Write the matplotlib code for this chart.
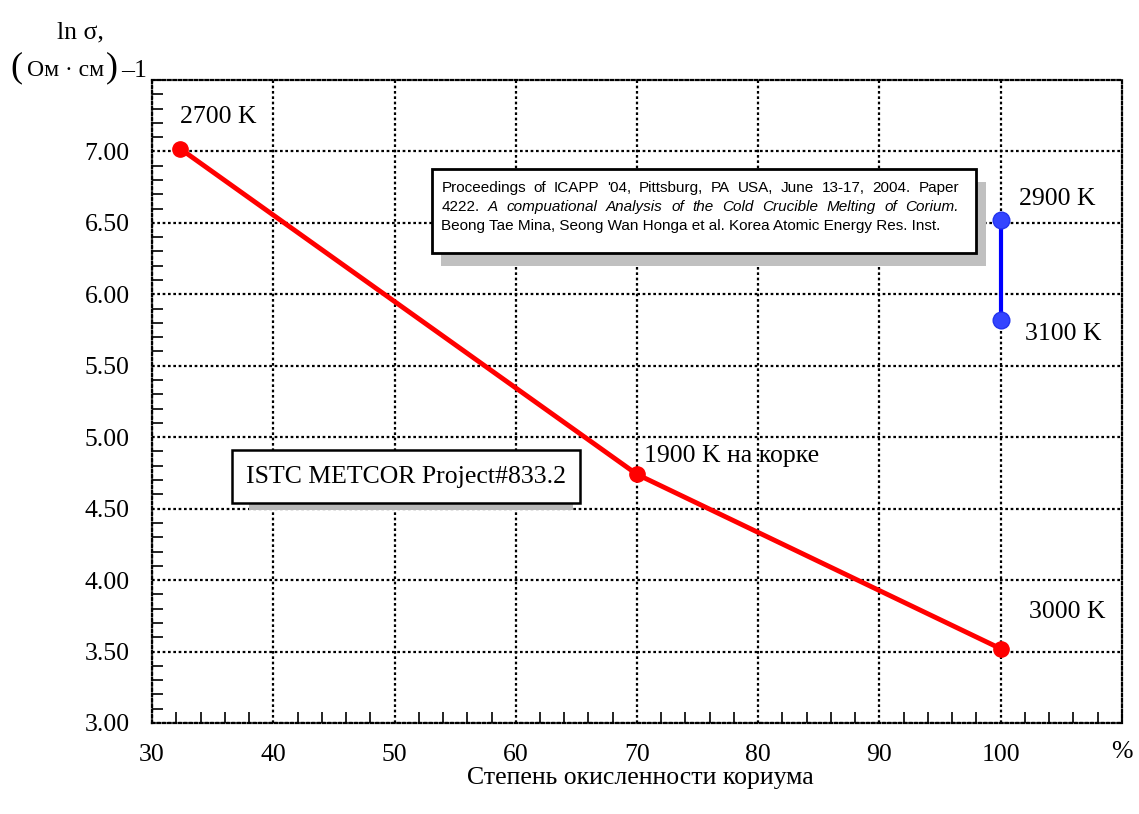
import matplotlib
matplotlib.use("Agg")
import matplotlib.pyplot as plt
from matplotlib.patches import Rectangle
from matplotlib.ticker import MultipleLocator, FormatStrFormatter

# Data: oxidation degree (%) vs ln(sigma)
metcor_x = [32.3, 70.0, 100.0]
metcor_y = [7.02, 4.74, 3.52]
metcor_labels = ["2700 K", "1900 K на корке", "3000 K"]

icapp_x = [100.0, 100.0]
icapp_y = [6.52, 5.82]
icapp_labels = ["2900 K", "3100 K"]

x_ticks = [30, 40, 50, 60, 70, 80, 90, 100]
y_ticks = [3.0, 3.5, 4.0, 4.5, 5.0, 5.5, 6.0, 6.5, 7.0]

serif = "Liberation Serif"
sans = "Liberation Sans"
FS = 18.5

fig = plt.figure(figsize=(11.39, 8.14), dpi=100)
ax = fig.add_axes([0.1335, 0.1118, 0.8515, 0.79])

ax.set_xlim(30, 110)
ax.set_ylim(3.0, 7.5)
ax.set_xticks(x_ticks)
ax.set_yticks(y_ticks)
ax.xaxis.set_minor_locator(MultipleLocator(2))
ax.yaxis.set_minor_locator(MultipleLocator(0.1))
ax.yaxis.set_major_formatter(FormatStrFormatter("%.2f"))

ax.grid(True, which="major", color="black", linestyle=(0, (1.2, 1.2)), linewidth=1.6)
for s in ax.spines.values():
    s.set_linestyle((0, (1.2, 1.2)))
    s.set_linewidth(1.6)
ax.tick_params(which="both", direction="in", length=0, labelsize=FS)
ax.tick_params(axis="y", pad=16)
ax.tick_params(axis="x", pad=15)
ax.tick_params(which="minor", length=8, width=1.2)
for lab in ax.get_xticklabels() + ax.get_yticklabels():
    lab.set_fontfamily(serif)

# Main series
ax.plot(metcor_x, metcor_y, color="#ff0000", linewidth=3.5, marker="o",
        markersize=11, zorder=5, clip_on=False)
ax.plot(icapp_x, icapp_y, color="#0000ff", linewidth=3, marker="o",
        markersize=12, markerfacecolor="#3344ff", markeredgecolor="#2233ee",
        zorder=5, clip_on=False)

# Point labels
label_pos = [(32.3, 7.24), (70.6, 4.87), (102.3, 3.775)]
for (x, y), t in zip(label_pos, metcor_labels):
    ax.text(x, y, t, fontsize=FS, family=serif, va="center", ha="left", zorder=6)
label_pos2 = [(101.5, 6.665), (102.0, 5.72)]
for (x, y), t in zip(label_pos2, icapp_labels):
    ax.text(x, y, t, fontsize=FS, family=serif, va="center", ha="left", zorder=6)

# Reference box with shadow
bx0, bx1, by0, by1 = 53.06, 98.0, 6.29, 6.874
ax.add_patch(Rectangle((bx0 + 0.8, by0 - 0.09), bx1 - bx0, by1 - by0,
                       facecolor="#c0c0c0", edgecolor="none", zorder=7))
ax.add_patch(Rectangle((bx0, by0), bx1 - bx0, by1 - by0,
                       facecolor="white", edgecolor="black", linewidth=2, zorder=8))

TS = 11
renderer = fig.canvas.get_renderer()


def justified_line(words, x_start, x_end, y):
    """Place (word, style) pieces on one line, spread between x_start and x_end."""
    arts = [ax.text(x_start, y, w, fontsize=TS, family=sans, style=st,
                    va="center", ha="left", zorder=9) for w, st in words]
    widths = [a.get_window_extent(renderer=renderer).width for a in arts]
    px0 = ax.transData.transform((x_start, y))[0]
    px1 = ax.transData.transform((x_end, y))[0]
    gap = (px1 - px0 - sum(widths)) / (len(arts) - 1)
    cur = px0
    inv = ax.transData.inverted()
    for a, w in zip(arts, widths):
        a.set_x(inv.transform((cur, 0))[0])
        cur += w + gap


tx = bx0 + 0.8
tx_end = 30 + (960 - 152) / 12.14
line1 = "Proceedings of ICAPP '04, Pittsburg, PA USA, June 13-17, 2004. Paper".split()
justified_line([(w, "normal") for w in line1], tx, tx_end, 6.745)
line2 = "A compuational Analysis of the Cold Crucible Melting of Corium.".split()
justified_line([("4222.", "normal")] + [(w, "italic") for w in line2], tx, tx_end, 6.612)
ax.text(tx, 6.48, "Beong Tae Mina, Seong Wan Honga et al. Korea Atomic Energy Res. Inst.",
        fontsize=TS, family=sans, va="center", zorder=9)

# Project box with shadow strip underneath
px0, px1, py0, py1 = 36.59, 65.26, 4.536, 4.913
ax.add_patch(Rectangle((37.99, 4.487), 64.76 - 37.99, py0 - 4.487,
                       facecolor="#b8b8b8", edgecolor="none", zorder=7))
ax.add_patch(Rectangle((px0, py0), px1 - px0, py1 - py0,
                       facecolor="white", edgecolor="black", linewidth=1.8, zorder=8))
ax.text((px0 + px1) / 2, (py0 + py1) / 2, "ISTC METCOR Project#833.2",
        fontsize=FS, family=serif, ha="center", va="center", zorder=9)

# Axis titles
fig.text(80 / 1139, 1 - 32 / 814, "ln σ,", fontsize=FS, family=serif,
         ha="center", va="center")
fig.text(10 / 1139, 1 - 68 / 814, "(", fontsize=26, family=serif, ha="left", va="center")
fig.text(27 / 1139, 1 - 71 / 814, "Ом · см", fontsize=17, family=serif, ha="left", va="center")
fig.text(106 / 1139, 1 - 68 / 814, ")", fontsize=26, family=serif, ha="left", va="center")
fig.text(121 / 1139, 1 - 71 / 814, "–1", fontsize=FS, family=serif, ha="left", va="center")

fig.text(640 / 1139, 1 - 778 / 814, "Степень окисленности кориума", fontsize=FS,
         family=serif, ha="center", va="center")
fig.text(1122 / 1139, 1 - 752 / 814, "%", fontsize=FS, family=serif, ha="center", va="center")

fig.savefig("out.png", dpi=100, facecolor="white")
